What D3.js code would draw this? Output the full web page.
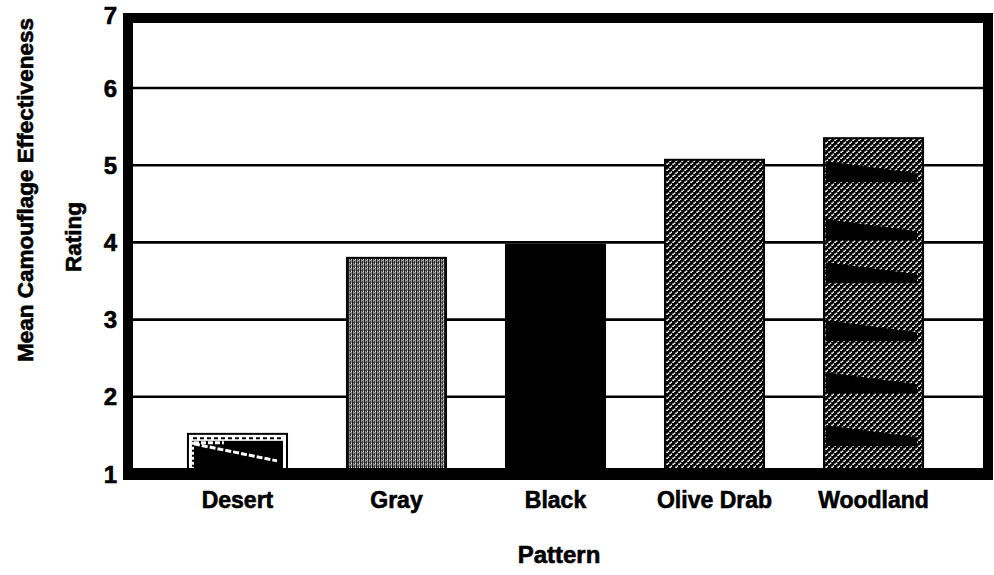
<!DOCTYPE html>
<html>
<head>
<meta charset="utf-8">
<script src="https://cdn.jsdelivr.net/npm/d3@7"></script>
<style>
  html, body { margin: 0; padding: 0; background: #fff; }
  svg { display: block; }
  text { font-family: "Liberation Sans", Arial, Helvetica, sans-serif; font-weight: bold; fill: #000; stroke: #000; stroke-width: 0.6px; }
</style>
</head>
<body>
<svg id="chart" width="994" height="575"></svg>
<script>
// ---- data ----
const categories = ["Desert", "Gray", "Black", "Olive Drab", "Woodland"];
const values = [1.52, 3.80, 3.97, 5.07, 5.35];
const yTicks = [1, 2, 3, 4, 5, 6, 7];
const patternIds = ["desert", "gray", "black", "olive", "woodland"];
const xTitle = "Pattern";
const yTitleLines = ["Mean Camouflage Effectiveness", "Rating"];

// ---- layout ----
const svg = d3.select("#chart");

const x = d3.scaleBand().domain(categories).range([128, 983]).padding(0.377);
const y = d3.scaleLinear().domain([1, 7]).range([474, 10.8]);

// ---- patterns ----
const defs = svg.append("defs");

// gray: dithered mid-gray texture
const pg = defs.append("pattern").attr("id", "pat-gray").attr("patternUnits", "userSpaceOnUse")
  .attr("width", 4).attr("height", 4);
pg.append("rect").attr("width", 4).attr("height", 4).attr("fill", "#959595");
pg.append("rect").attr("x", 0).attr("y", 0).attr("width", 1).attr("height", 4).attr("fill", "#1e1e1e");
pg.append("rect").attr("x", 2).attr("y", 1).attr("width", 1).attr("height", 3).attr("fill", "#333");
pg.append("rect").attr("x", 3).attr("y", 3).attr("width", 1).attr("height", 1).attr("fill", "#e8e8e8");
pg.append("rect").attr("x", 1).attr("y", 2).attr("width", 1).attr("height", 1).attr("fill", "#4a4a4a");

// olive drab / woodland base: black with white squiggle marks
const po = defs.append("pattern").attr("id", "pat-olive").attr("patternUnits", "userSpaceOnUse")
  .attr("width", 6).attr("height", 6);
po.append("rect").attr("width", 6).attr("height", 6).attr("fill", "#000");
po.append("path").attr("fill", "#fff")
  .attr("d", "M0.3,1.4 h1.5 v-1 h1.5 v1.5 h-1.2 v1 h-1.8 z M3.3,4.4 h1.5 v-1 h1.5 v1.5 h-1.2 v1 h-1.8 z");

const fillFor = id => id === "black" ? "#000"
  : id === "desert" ? "#fff"
  : id === "woodland" ? "url(#pat-olive)"
  : `url(#pat-${id})`;

// ---- gridlines ----
svg.append("g").selectAll("line").data(yTicks.filter(d => d > 1 && d < 7)).join("line")
  .attr("x1", 128).attr("x2", 988)
  .attr("y1", d => y(d)).attr("y2", d => y(d))
  .attr("stroke", "#000").attr("stroke-width", 2.6);

// ---- bars ----
const bars = svg.append("g");
categories.forEach((c, i) => {
  const v = values[i];
  const bx = x(c), bw = x.bandwidth(), by = y(v), bh = y(1) - y(v);
  const id = patternIds[i];
  bars.append("rect")
    .attr("x", bx).attr("y", by).attr("width", bw).attr("height", bh)
    .attr("fill", fillFor(id)).attr("stroke", "#000").attr("stroke-width", 2);

  if (id === "desert") {
    const g = bars.append("g");
    g.append("rect").attr("x", bx + 4).attr("y", by + 7).attr("width", bw - 8).attr("height", bh - 12)
      .attr("fill", "#000");
    g.append("line").attr("x1", bx + 5).attr("y1", by + 4.5).attr("x2", bx + bw - 5).attr("y2", by + 4.5)
      .attr("stroke", "#000").attr("stroke-width", 2).attr("stroke-dasharray", "4,3");
    g.append("line").attr("x1", bx + 6).attr("y1", by + 10).attr("x2", bx + bw - 10).attr("y2", by + 27)
      .attr("stroke", "#fff").attr("stroke-width", 3).attr("stroke-dasharray", "6,2");
    g.append("line").attr("x1", bx + 6).attr("y1", by + 9).attr("x2", bx + 36).attr("y2", by + 9)
      .attr("stroke", "#fff").attr("stroke-width", 3).attr("stroke-dasharray", "5,2");
    g.append("line").attr("x1", bx + 5).attr("y1", by + 8).attr("x2", bx + 5).attr("y2", by + bh - 6)
      .attr("stroke", "#fff").attr("stroke-width", 2).attr("stroke-dasharray", "3,2");
  }
  if (id === "woodland") {
    const g = bars.append("g");
    const offs = [23, 81, 124, 182, 234, 287];
    offs.forEach(o => {
      const t = by + o;
      if (t + 20 > y(1) - 6) return;
      g.append("path").attr("fill", "#000")
        .attr("d", `M${bx + 2},${t} L${bx + bw - 6},${t + 12} L${bx + bw - 6},${t + 21} L${bx + 2},${t + 21} Z`);
    });
  }
});

// ---- frame ----
const frame = svg.append("g").attr("fill", "none").attr("stroke", "#000");
frame.append("line").attr("x1", 123).attr("x2", 993).attr("y1", 18).attr("y2", 18).attr("stroke-width", 10);
frame.append("line").attr("x1", 128).attr("x2", 128).attr("y1", 13).attr("y2", 480).attr("stroke-width", 10);
frame.append("line").attr("x1", 988).attr("x2", 988).attr("y1", 13).attr("y2", 480).attr("stroke-width", 10);
frame.append("line").attr("x1", 123).attr("x2", 993).attr("y1", y(1)).attr("y2", y(1)).attr("stroke-width", 12);

// ---- y tick labels ----
svg.append("g").selectAll("text").data(yTicks).join("text")
  .attr("x", 117).attr("y", d => Math.max(y(d), 15))
  .attr("dy", "0.36em").attr("text-anchor", "end")
  .style("font-size", "24px").text(d => d);

// ---- x tick labels ----
svg.append("g").selectAll("text").data(categories).join("text")
  .attr("x", d => x(d) + x.bandwidth() / 2).attr("y", 508)
  .attr("text-anchor", "middle").style("font-size", "23px").text(d => d);

// ---- titles ----
svg.append("text").attr("x", 559).attr("y", 563).attr("text-anchor", "middle")
  .style("font-size", "24px").text(xTitle);

svg.append("text").attr("transform", "translate(33,190) rotate(-90)").attr("text-anchor", "middle")
  .style("font-size", "22.5px").text(yTitleLines[0]);
svg.append("text").attr("transform", "translate(81,237) rotate(-90)").attr("text-anchor", "middle")
  .style("font-size", "22.5px").text(yTitleLines[1]);
</script>
</body>
</html>
